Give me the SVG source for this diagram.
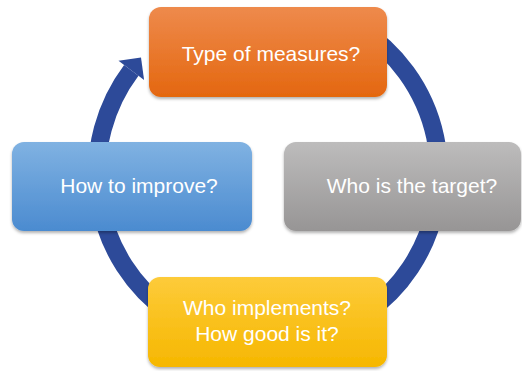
<svg xmlns="http://www.w3.org/2000/svg" width="522" height="371" viewBox="0 0 522 371">
  <defs>
    <linearGradient id="gOrange" x1="0" y1="0" x2="0" y2="1">
      <stop offset="0" stop-color="#ee8a4c"/>
      <stop offset="1" stop-color="#e4670f"/>
    </linearGradient>
    <linearGradient id="gGray" x1="0" y1="0" x2="0" y2="1">
      <stop offset="0" stop-color="#bdbcbc"/>
      <stop offset="1" stop-color="#979595"/>
    </linearGradient>
    <linearGradient id="gYellow" x1="0" y1="0" x2="0" y2="1">
      <stop offset="0" stop-color="#fdcb3a"/>
      <stop offset="1" stop-color="#f6b700"/>
    </linearGradient>
    <linearGradient id="gBlue" x1="0" y1="0" x2="0" y2="1">
      <stop offset="0" stop-color="#80b2e2"/>
      <stop offset="1" stop-color="#4b8bd0"/>
    </linearGradient>
    <filter id="shadow" x="-5%" y="-5%" width="110%" height="115%">
      <feDropShadow dx="0" dy="2" stdDeviation="1.5" flood-color="#000" flood-opacity="0.3"/>
    </filter>
  </defs>
  <style>
    .box { filter: url(#shadow); }
    .label { font-family: "Liberation Sans", Arial, sans-serif; font-size: 21px; fill: #ffffff; text-anchor: middle; }
    .ring { fill: none; stroke: #2d4a99; stroke-width: 18; }
    .head { fill: #2d4a99; }
  </style>

  <rect width="522" height="371" fill="#ffffff"/>

  <!-- clockwise cycle ring (starts and ends under the top box) with its arrowhead -->
  <g id="connectors">
    <path class="ring" d="M 358.6 28.0 A 171 171 0 1 1 131.3 70.3"/>
    <polygon class="head" points="118.5,60.7 141.0,57.5 144.1,79.9"/>
  </g>

  <g id="node-measures">
    <rect class="box" x="149" y="7" width="238" height="90" rx="12" fill="url(#gOrange)"/>
    <text class="label" x="271" y="61">Type of measures?</text>
  </g>

  <g id="node-target">
    <rect class="box" x="284" y="142" width="237" height="89" rx="12" fill="url(#gGray)"/>
    <text class="label" x="412" y="193">Who is the target?</text>
  </g>

  <g id="node-implements">
    <rect class="box" x="148" y="277" width="239" height="90" rx="12" fill="url(#gYellow)"/>
    <text class="label" x="267" y="315">Who implements?</text>
    <text class="label" x="267" y="341">How good is it?</text>
  </g>

  <g id="node-improve">
    <rect class="box" x="12" y="142" width="240" height="89" rx="12" fill="url(#gBlue)"/>
    <text class="label" x="139" y="193">How to improve?</text>
  </g>
</svg>
